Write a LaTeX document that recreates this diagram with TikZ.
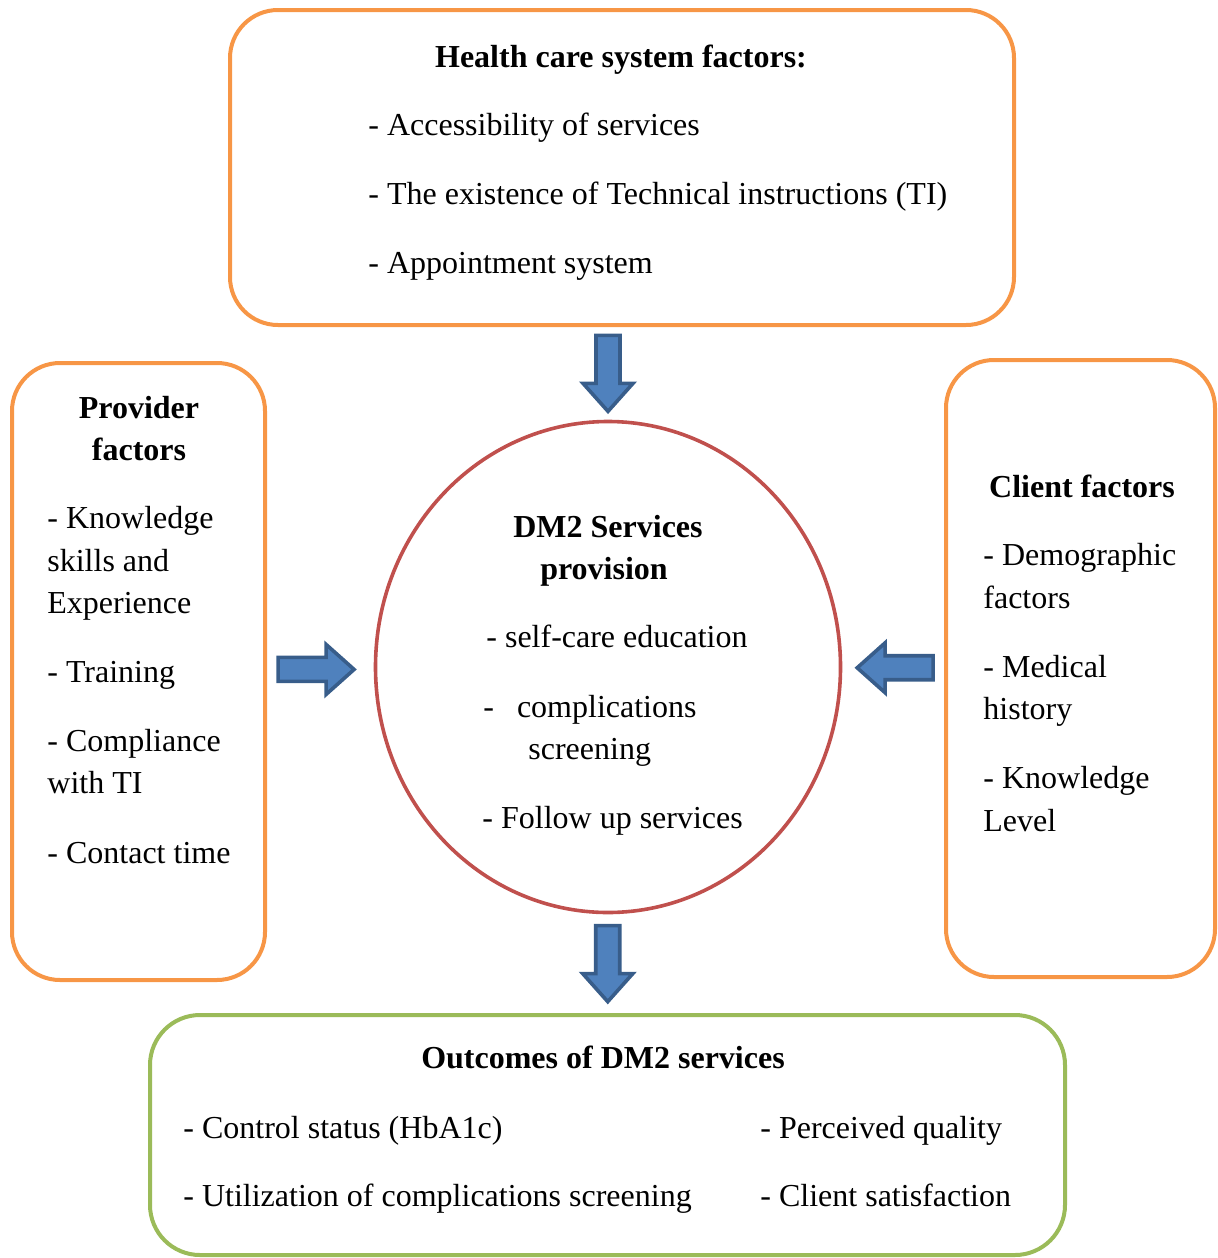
\documentclass[tikz,border=0pt]{standalone}
\usepackage{fontspec}
\setmainfont{Liberation Serif}
\usepackage{xcolor}
\usepackage{tikz}
\usetikzlibrary{calc,positioning,shapes.geometric}
\definecolor{boxOrange}{RGB}{247,150,70}
\definecolor{boxGreen}{RGB}{155,187,89}
\definecolor{ringRed}{RGB}{192,80,77}
\definecolor{arrowBlue}{RGB}{79,129,189}
\definecolor{arrowBlueDark}{RGB}{56,93,138}
\newcommand{\diagfont}{\fontsize{16}{19}\selectfont}

\tikzset{
  factorbox/.style={draw, rounded corners=24pt, line width=2pt, inner sep=0pt},
  itemtext/.style={font=\diagfont, anchor=base west, inner sep=0pt},
  headtext/.style={font=\diagfont\bfseries, anchor=base, inner sep=0pt},
  blockarrow/.pic={
    \filldraw[fill=arrowBlue, draw=arrowBlueDark, line width=1.8pt, line join=miter]
      (-38,-12) -- (10,-12) -- (10,-25) -- (38,0) -- (10,25) -- (10,12) -- (-38,12) -- cycle;
  }
}

\begin{document}
\begin{tikzpicture}[x=0.5pt,y=-0.5pt]
    \useasboundingbox (0,0) rectangle (1218,1258);

    % frames
    \node[factorbox, draw=boxOrange, minimum width=392pt, minimum height=157.5pt] (health) at (622,167.5) {};
    \node[factorbox, draw=boxOrange, minimum width=126.5pt, minimum height=308.5pt] (provider) at (138.5,671.5) {};
    \node[factorbox, draw=boxOrange, minimum width=134.5pt, minimum height=308.5pt] (client) at (1080.5,668.5) {};
    \node[factorbox, draw=boxGreen, rounded corners=25pt, minimum width=457.5pt, minimum height=120pt] (outcome) at (607.5,1135) {};
    \node[ellipse, draw=ringRed, line width=1.8pt, inner sep=0pt,
          minimum width=232.5pt, minimum height=245.5pt] (dm) at (608,667) {};

    % block arrows towards and out of the centre
    \pic[rotate=-90] at ($(dm.north |- health.south)!0.5!(dm.north)$) {blockarrow};
    \pic at ($(provider.east)!0.46!(dm.west)$) {blockarrow};
    \pic[rotate=180] at ($(dm.east)!0.52!(client.west)$) {blockarrow};
    \pic[rotate=-90] at ($(dm.south)!0.5!(outcome.north)$) {blockarrow};

    % health care system
    \node[headtext] (health-head) at (621,67) {Health care system factors:};
    \foreach \y/\txt [count=\i] in {135/- Accessibility of services,
        204/- The existence of Technical instructions (TI),
        273/- Appointment system}
      \node[itemtext] (health-\i) at (368,\y) {\txt};

    % provider
    \node[headtext] (provider-head1) at (139,418) {Provider};
    \node[headtext] (provider-head2) at (139,460) {factors};
    \foreach \y/\txt [count=\i] in {528/- Knowledge, 571/skills and, 613/Experience,
        682/- Training, 751/- Compliance, 793/with TI, 863/- Contact time}
      \node[itemtext] (provider-\i) at (47,\y) {\txt};

    % client
    \node[headtext] (client-head) at (1082,497) {Client factors};
    \foreach \y/\txt [count=\i] in {565/- Demographic, 608/factors, 677/- Medical,
        719/history, 788/- Knowledge, 831/Level}
      \node[itemtext] (client-\i) at (983,\y) {\txt};

    % services in the centre
    \node[headtext] (dm-head1) at (608,537) {DM2 Services};
    \node[headtext] (dm-head2) at (604,579) {provision};
    \node[itemtext] (dm-1) at (486,647) {- self-care education};
    \node[itemtext] (dm-2) at (483,717) {-\hspace{11.5pt}complications};
    \node[itemtext] (dm-3) at (528,759) {screening};
    \node[itemtext] (dm-4) at (482,828) {- Follow up services};

    % outcomes
    \node[headtext] (outcome-head) at (603,1068) {Outcomes of DM2 services};
    \node[itemtext] (outcome-1) at (183,1138) {- Control status (HbA1c)};
    \node[itemtext] (outcome-2) at (183,1206) {- Utilization of complications screening};
    \node[itemtext] (outcome-3) at (760,1138) {- Perceived quality};
    \node[itemtext] (outcome-4) at (760,1206) {- Client satisfaction};

\end{tikzpicture}
\end{document}
